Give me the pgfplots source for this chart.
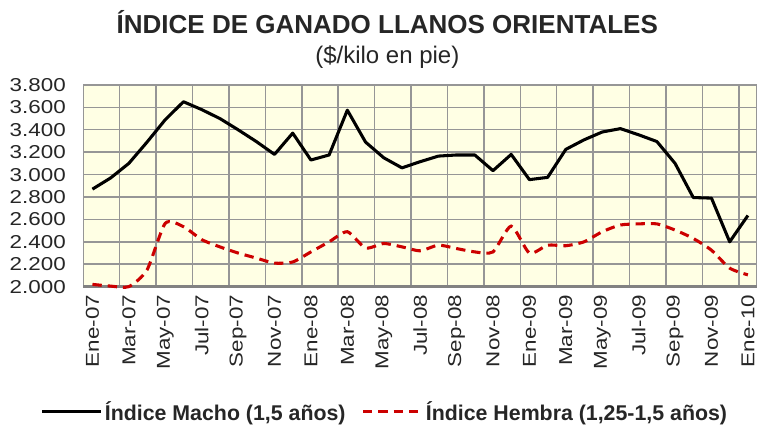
\documentclass[border=0pt]{standalone}
\usepackage{pgfplots}
\pgfplotsset{compat=1.18}
\usepackage{fontspec}
\setmainfont{Liberation Sans}
\newfontfamily\tickfont[FakeStretch=1.2]{Liberation Sans}
\definecolor{bgy}{RGB}{255,255,228}
\definecolor{gridg}{RGB}{150,150,150}
\definecolor{axg}{RGB}{130,130,130}
\definecolor{redd}{RGB}{204,0,0}
\begin{document}
\begin{tikzpicture}
\begin{axis}[
  scale only axis, width=505.3pt, height=151.3pt,
  at={(0,0)}, anchor=south west,
  xmin=-0.5, xmax=36.5, ymin=2000, ymax=3800,
  axis background/.style={fill=bgy},
  axis line style={draw=gridg, line width=0.9pt},
  xtick={0,2,...,36},
  xticklabels={Ene-07,Mar-07,May-07,Jul-07,Sep-07,Nov-07,Ene-08,Mar-08,May-08,Jul-08,Sep-08,Nov-08,Ene-09,Mar-09,May-09,Jul-09,Sep-09,Nov-09,Ene-10},
  minor xtick={1.5,3.5,...,35.5},
  xminorgrids=true, xmajorgrids=false,
  ytick={2000,2200,...,3800},
  yticklabels={2.000,2.200,2.400,2.600,2.800,3.000,3.200,3.400,3.600,3.800},
  ymajorgrids=true,
  grid style={draw=gridg, line width=1.1pt},
  minor grid style={draw=gridg, line width=1.1pt},
  major tick length=0pt, minor tick length=0pt,
  tick label style={font=\tickfont\fontsize{14}{14}\selectfont, text=black!85},
  xticklabel style={rotate=90, anchor=east, inner sep=0pt},
  yticklabel style={anchor=east, inner sep=0pt},
  xticklabel shift=6pt, yticklabel shift=13pt,
  legend columns=2,
  legend style={at={(0.448,-0.621)}, anchor=center, draw=none, fill=none,
    font=\bfseries\fontsize{16}{16}\selectfont, text=black!85, column sep=0pt, inner sep=0pt},
  legend image code/.code={\draw[#1] (0pt,0pt) -- (44pt,0pt);},
  /tikz/every even column/.append style={column sep=10pt},
  legend cell align=left,
  clip=false,
]
\draw[draw=axg, line width=1.8pt] (axis cs:-0.5,2000) -- (axis cs:36.5,2000);
\addplot[black, line width=2.3pt, line join=round] coordinates {
(0,2870)(1,2970)(2,3100)(3,3290)(4,3490)(5,3650)(6,3580)(7,3500)(8,3400)(9,3295)
(10,3180)(11,3370)(12,3130)(13,3175)(14,3575)(15,3290)(16,3150)(17,3060)(18,3115)(19,3165)
(20,3175)(21,3175)(22,3035)(23,3180)(24,2955)(25,2975)(26,3225)(27,3310)(28,3380)(29,3410)
(30,3355)(31,3295)(32,3100)(33,2795)(34,2790)(35,2400)(36,2635)};
\addlegendentry{Índice Macho (1,5 años)}
\addplot[redd, line width=2.3pt, dash pattern=on 7pt off 4.5pt, smooth, tension=0.4] coordinates {
(0,2020)(1,2005)(2,2000)(3,2150)(4,2565)(5,2535)(6,2420)(7,2355)(8,2300)(9,2255)
(10,2210)(11,2220)(12,2310)(13,2400)(14,2490)(15,2345)(16,2385)(17,2355)(18,2320)(19,2370)
(20,2340)(21,2310)(22,2310)(23,2540)(24,2300)(25,2370)(26,2365)(27,2400)(28,2490)(29,2550)
(30,2560)(31,2560)(32,2505)(33,2430)(34,2325)(35,2165)(36,2105)};
\addlegendentry{Índice Hembra (1,25-1,5 años)}
\end{axis}
\node[font=\bfseries\fontsize{19.5}{19.5}\selectfont, text=black!85] at (228pt,198.5pt) {ÍNDICE DE GANADO LLANOS ORIENTALES};
\node[font=\fontsize{18}{18}\selectfont, text=black!85] at (228pt,172.5pt) {(\$/kilo en pie)};
\pgfresetboundingbox
\path[use as bounding box] (-62.5pt,-106.7pt) rectangle (505.3pt,215pt);
\end{tikzpicture}
\end{document}
